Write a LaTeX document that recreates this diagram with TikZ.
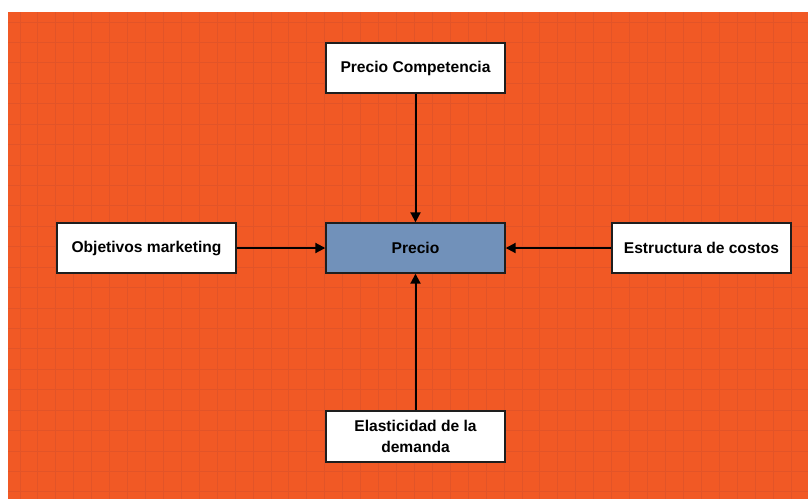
\documentclass[tikz,border=0pt]{standalone}
\usepackage{fontspec}
\setmainfont{Liberation Sans}
\usetikzlibrary{arrows.meta}
\definecolor{bgorange}{RGB}{241,89,37}
\definecolor{gridline}{RGB}{226,84,40}
\definecolor{precioblue}{RGB}{113,145,186}
\definecolor{boxborder}{RGB}{30,30,30}
\begin{document}
\begin{tikzpicture}[x=1pt,y=-1pt,
  box/.style={draw=boxborder,line width=1.4pt,fill=white,minimum width=179pt,minimum height=50pt,inner sep=0pt,font=\fontsize{15.6}{20.5}\selectfont\bfseries,align=center},
  conn/.style={line width=2pt,-{Triangle[length=10pt,width=10pt]}}]
\useasboundingbox (0,0) rectangle (808,499);
\fill[white] (0,0) rectangle (808,499);
\fill[bgorange] (8,12) rectangle (808,499);
\foreach \k in {0,...,43} {\draw[gridline,line width=1pt] (20+17.93*\k,12) -- (20+17.93*\k,499);}
\foreach \k in {0,...,23} {\draw[gridline,line width=1pt] (8,22+20.43*\k) -- (808,22+20.43*\k);}
\node[box] (comp) at (415.5,68) {Precio Competencia};
\node[box,fill=precioblue] (precio) at (415.5,248) {Precio};
\node[box] (obj) at (146.5,248) {Objetivos marketing};
\node[box] (est) at (701.5,248) {Estructura de costos};
\node[box,minimum height=51pt] (elas) at (415.5,436.5) {Elasticidad de la\\demanda};
\draw[conn] (comp) -- (precio);
\draw[conn] (elas) -- (precio);
\draw[conn] (obj) -- (precio);
\draw[conn] (est) -- (precio);
\end{tikzpicture}
\end{document}
